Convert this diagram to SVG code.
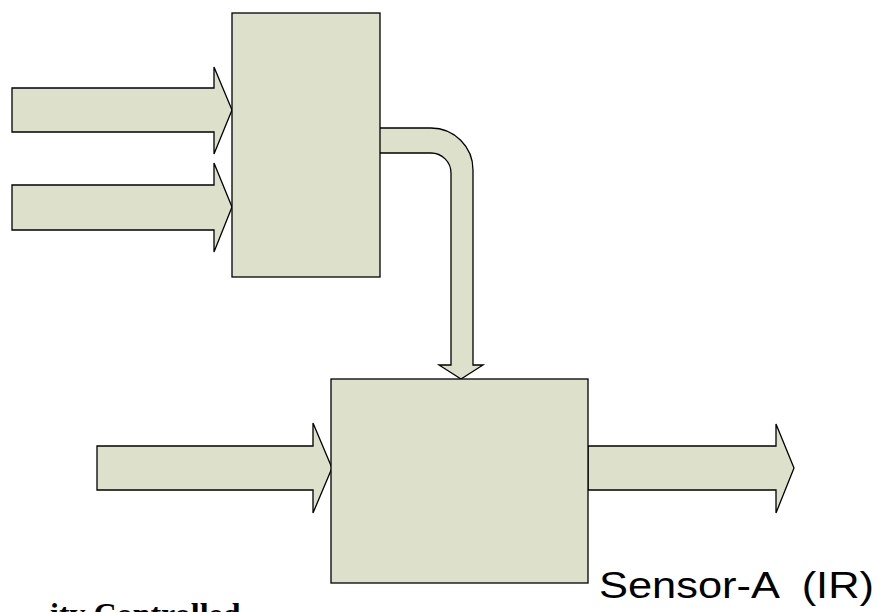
<svg xmlns="http://www.w3.org/2000/svg" width="878" height="612" viewBox="0 0 878 612">
<style>
.shape{fill:#dde0cb;stroke:#000;stroke-width:1.3;stroke-linejoin:miter}
.lbl{font-family:"Liberation Sans",Arial,sans-serif;font-size:37px;fill:#000;white-space:pre}
.cap{font-family:"Liberation Serif","Times New Roman",serif;font-size:32px;font-weight:bold;fill:#000}
</style>
<rect width="878" height="612" fill="#fff"/>
<g id="connectors">
<path class="shape" d="M12,88 L214,88 L214,67 L232,110 L214,154 L214,132 L12,132 Z"/>
<path class="shape" d="M12,185 L214,185 L214,163 L232,207 L214,252 L214,230 L12,230 Z"/>
<path class="shape" d="M97,446 L313,446 L313,423 L332,468 L313,513 L313,490 L97,490 Z"/>
<path class="shape" d="M588,446 L776,446 L776,424 L794,468 L776,513 L776,490 L588,490 Z"/>
<path class="shape" d="M380,128 L431,128 A42,42 0 0 1 473,170 L473,365 L483,365 L461,379 L439,365 L451,365 L451,173 A20,20 0 0 0 431,153 L380,153"/>
</g>
<g id="node-top">
<rect class="shape" x="232" y="13" width="148" height="264"/>
</g>
<g id="node-bottom">
<rect class="shape" x="331" y="379" width="257" height="204"/>
</g>
<g id="label-sensor">
<text class="lbl" x="599" y="598" textLength="275" lengthAdjust="spacingAndGlyphs" xml:space="preserve">Sensor-A  (IR)</text>
</g>
<g id="label-bottom">
<text class="cap" x="50" y="625">ity Controlled</text>
</g>
</svg>
